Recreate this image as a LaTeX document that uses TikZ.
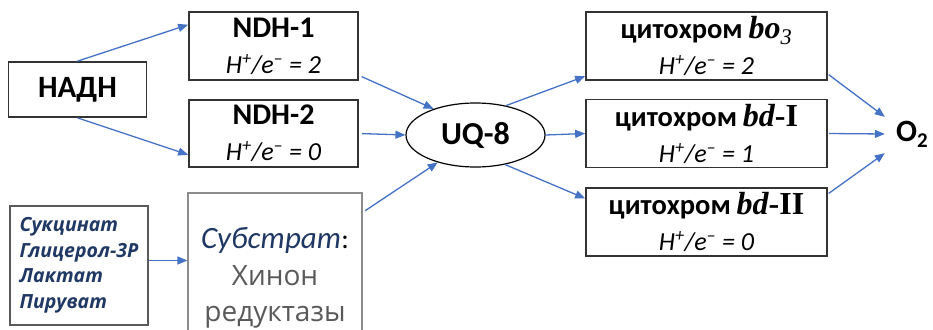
\documentclass[tikz,border=0pt]{standalone}
\usepackage{fontspec}
\setmainfont{Carlito}
\newfontfamily\timesf{Liberation Serif}
\newfontfamily\segoef{Open Sans}
\usetikzlibrary{arrows.meta,shapes.geometric}

\definecolor{Flux}{HTML}{4472C4}
\definecolor{Frame}{HTML}{333333}
\definecolor{Navy}{HTML}{203864}
\definecolor{Grey}{HTML}{595959}
\definecolor{SoftFrame}{HTML}{8C8C8C}
\definecolor{ListFrame}{HTML}{5A5A5A}

\newcommand{\ratio}[1]{{\fontsize{26}{36}\selectfont\itshape H\textsuperscript{+}/e\textsuperscript{--} = #1}}
\newcommand{\cyto}{{\fontsize{28.5}{36}\selectfont\bfseries цитохром}}

\begin{document}
\begin{tikzpicture}[x=1pt, y=-1pt,
  box/.style={draw=Frame, line width=1.7pt, rectangle, inner sep=0pt, align=center,
    font=\fontsize{26}{36}\selectfont},
  flux/.style={draw=Flux, line width=1.3pt, -{Triangle[length=10pt,width=8pt]}}]

 \useasboundingbox (0,0) rectangle (933,329);
 \clip (0,0) rectangle (933,329);

 %%%%%%%%%% Left column %%%%%%%%%%
 \node[box, minimum width=138, minimum height=55, font=\fontsize{31}{34}\selectfont\bfseries] (nadh) at (77.5,89.5) {НАДН};
 \node[box, minimum width=169, minimum height=68] (ndh1) at (273.5,46) {{\fontsize{30}{36}\selectfont\bfseries NDH-1}\\\ratio{2}};
 \node[box, minimum width=169, minimum height=67] (ndh2) at (273.5,133.5) {{\fontsize{30}{36}\selectfont\bfseries NDH-2}\\\ratio{0}};

 \node[box, draw=ListFrame, line width=1.2pt, minimum width=138, minimum height=119, align=left,
   font=\fontsize{19.5}{25.5}\selectfont\segoef\bfseries\itshape, text=Navy] (subst) at (79,265.5)
   {Сукцинат\\Глицерол-3Р\\Лактат\\Пируват};
 \node[box, draw=SoftFrame, line width=1.2pt, minimum width=174, minimum height=170,
   font=\fontsize{28}{36.5}\selectfont] (quin) at (275,278)
   {{\fontsize{31}{36.5}\selectfont\color{Navy}\itshape Субстрат}:\\{\segoef\color{Grey}Хинон}\\{\segoef\color{Grey}редуктазы}};

 %%%%%%%%%% Quinone pool %%%%%%%%%%
 \node[ellipse, draw=black, line width=1.2pt, minimum width=139, minimum height=64, inner sep=0pt,
   font=\fontsize{32}{34}\selectfont\bfseries] (uq) at (475.5,135) {UQ-8};

 %%%%%%%%%% Oxidases %%%%%%%%%%
 \node[box, minimum width=241, minimum height=68] (bo) at (706.5,46)
   {\cyto\ {\fontsize{32}{36}\selectfont\timesf\bfseries\itshape bo\textsubscript{\mdseries 3}}\\\ratio{2}};
 \node[box, minimum width=241, minimum height=68] (bdI) at (706.5,133.5)
   {\cyto\ {\fontsize{32}{36}\selectfont\timesf\bfseries{\itshape bd}-I}\\\ratio{1}};
 \node[box, minimum width=241, minimum height=68] (bdII) at (706.5,222)
   {\cyto\ {\fontsize{32}{36}\selectfont\timesf\bfseries{\itshape bd}-II}\\\ratio{0}};

 \node[inner sep=0pt, minimum width=54, minimum height=40, font=\bfseries] (o2) at (912,134)
   {{\fontsize{31}{34}\selectfont O}{\fontsize{21}{24}\selectfont\raisebox{-6pt}{2}}};

 %%%%%%%%%% Electron flow %%%%%%%%%%
 \draw[flux] (nadh.north) -- (ndh1.166);
 \draw[flux] (nadh.south) -- (ndh2.194);
 \draw[flux, shorten <=3pt] (ndh1.341) -- (uq.148);
 \draw[flux, shorten <=3pt] (ndh2.east) -- (uq.west);
 \draw[flux, shorten <=3pt] ([yshift=-20pt]quin.north east) -- (uq.216);
 \draw[flux] ([yshift=5pt]subst.east) -- ([yshift=5pt]subst.east -| quin.west);

 \draw[flux] (uq.44) -- (bo.194);
 \draw[flux] (uq.east) -- (bdI.west);
 \draw[flux] (uq.315) -- (bdII.169);

 \draw[flux, shorten <=1pt] (bo.347) -- ([yshift=-3pt]o2.north west);
 \draw[flux, shorten <=1pt] (bdI.east) -- (o2.west);
 \draw[flux, shorten <=1pt] (bdII.13) -- ([yshift=1pt]o2.south west);

\end{tikzpicture}
\end{document}
